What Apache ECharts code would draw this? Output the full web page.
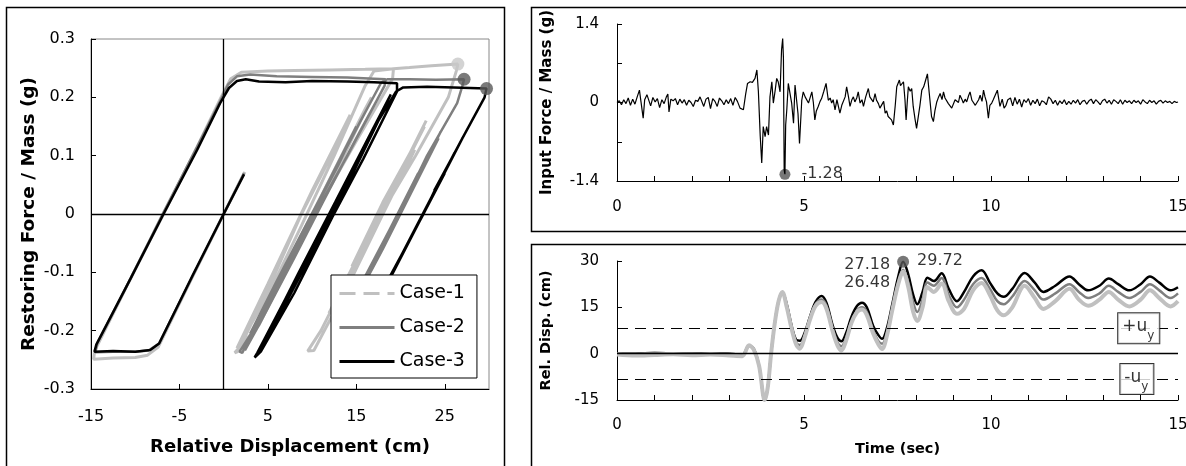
<!DOCTYPE html>
<html>
<head>
<meta charset="utf-8">
<script src="https://cdn.jsdelivr.net/npm/echarts@6.0.0/dist/echarts.min.js"></script>
<style>
  html, body { margin: 0; padding: 0; background: #fff; }
  #chart { width: 1186px; height: 466px; }
</style>
</head>
<body>
<div id="chart"></div>
<script>
// ---- left panel: hysteresis loops [relative displacement (cm), restoring force / mass (g)]
const loopCase1 = [
  [0,0],[2.4,0.072],[0,0],[-3.6,-0.11],[-7.4,-0.228],[-8.6,-0.242],[-10,-0.246],[-12.5,-0.247],[-14.7,-0.249],
  [-14.6,-0.235],[-10.5,-0.11],[-6.8,0],[-3,0.115],[-0.3,0.2],[0.8,0.232],[2,0.243],[5,0.245],[8,0.246],
  [12,0.247],[16,0.248],[19.2,0.249],
  [19.1,0.232],[15,0.125],[10.3,0],[6,-0.115],[2.4,-0.228],[2.2,-0.232],
  [3.5,-0.2],[8,-0.06],[12,0.06],[16,0.18],[16.7,0.2],
  [13,0.08],[9,-0.04],[4,-0.19],[1.25,-0.238],[1.6,-0.236],
  [5,-0.13],[8.8,0],[12.5,0.11],[14.3,0.17],
  [10,0.04],[5,-0.12],[1.5,-0.23],
  [5,-0.14],[8.8,-0.02],[12.5,0.1],[16,0.22],[17,0.245],[19.2,0.249],[21,0.251],[23.5,0.254],[26.48,0.257],
  [26.3,0.245],[25.4,0.2],[21.7,0.1],[17.8,0],[14,-0.11],[11,-0.2],[9.5,-0.235],[10.2,-0.234],
  [14,-0.125],[18,0],[21.6,0.11],[20,0.07],[22.7,0.15],[18,0.01],[11.9,-0.17],[16,-0.05],[22.9,0.16],
  [17,-0.02],[12.4,-0.16],[17,-0.03],[22,0.13],[18,0.02],[14.5,-0.09],[18,0.01],[21,0.1],[16,-0.05],
  [20.5,0.08],[15.3,-0.07],[17,-0.02]
];
const loopCase2 = [
  [0,0],[2.3,0.07],[0,0],[-3.5,-0.106],[-7.3,-0.222],[-8.5,-0.234],[-10,-0.236],[-12.5,-0.236],[-14.5,-0.237],
  [-14.3,-0.222],[-10.5,-0.11],[-6.9,0],[-3,0.115],[-0.5,0.19],[0.5,0.222],[1.5,0.236],[3,0.239],[6,0.236],
  [10,0.235],[14,0.234],[17,0.232],[18.3,0.231],
  [18.2,0.22],[14,0.1],[10.3,0],[6,-0.125],[2.6,-0.226],[2.4,-0.234],
  [4,-0.19],[8,-0.075],[11.2,0.02],[15,0.13],[17.5,0.2],
  [13.8,0.095],[9.3,-0.03],[4.8,-0.165],[1.8,-0.236],[2.1,-0.238],
  [5,-0.15],[9.7,-0.01],[13,0.085],[15,0.15],
  [11,0.03],[6,-0.115],[3,-0.205],
  [6,-0.12],[11,0.03],[15.5,0.16],[17.8,0.225],[18.5,0.231],[21,0.231],[24,0.23],[27.18,0.231],
  [27,0.22],[26.4,0.19],[23,0.1],[19.8,0],[16,-0.107],[13.5,-0.18],
  [17,-0.08],[21,0.04],[24.5,0.14],[22,0.065],[15,-0.145],[18,-0.06],[24.3,0.13],[16,-0.107],[23.5,0.11],
  [17.5,-0.065],[22.5,0.08],[18,-0.05],[22,0.07],[18,-0.05],[22.5,0.08],[18,-0.05],[19.5,-0.01]
];
const loopCase3 = [
  [0,0],[2.3,0.068],[0,0],[-3.5,-0.105],[-7.3,-0.222],[-8.3,-0.233],[-10,-0.236],[-12.5,-0.235],[-14.6,-0.236],
  [-14.4,-0.224],[-10.5,-0.11],[-6.8,0],[-3,0.11],[-0.4,0.19],[0.6,0.216],[1.5,0.228],[2.5,0.231],[4,0.227],
  [7,0.226],[10,0.228],[14,0.227],[17,0.226],[19.6,0.224],
  [19.6,0.21],[15.8,0.095],[12.3,-0.005],[8,-0.135],[4.2,-0.236],[3.5,-0.246],
  [4.5,-0.22],[8.5,-0.1],[12.6,0.02],[16.5,0.135],[18.9,0.205],
  [15,0.09],[11,-0.03],[6.5,-0.16],[3.8,-0.238],
  [7,-0.145],[12,0],[16.8,0.14],
  [12.5,0.01],[8,-0.12],[4.9,-0.215],
  [8.5,-0.11],[13,0.02],[17.5,0.16],[19.5,0.21],[20.3,0.217],[23,0.218],[26,0.217],[29.72,0.215],
  [29.5,0.2],[27,0.13],[24,0.045],[22.6,0],[18.8,-0.107],[16.5,-0.175],
  [20,-0.075],[24.9,0.07],[23.8,0.04],[26.3,0.11],[17.3,-0.155],[27,0.13],[18.4,-0.12],[26.1,0.105],
  [20,-0.075],[25,0.07],[20.5,-0.06],[24.3,0.05],[20.5,-0.06],[25,0.07],[20.5,-0.06],[21.5,-0.03]
];
const caseNames = ['Case-1', 'Case-2', 'Case-3'];
const caseColors = ['#c0c0c0', '#7f7f7f', '#000000'];
const peakDisp = [26.48, 27.18, 29.72];
const peakForce = [0.257, 0.231, 0.215];

// ---- top right: input force / mass (g) vs time (sec)
const inputForce = [
  [0.00,0.00],[0.06,0.03],[0.12,-0.04],[0.18,0.05],[0.24,-0.02],[0.30,0.08],[0.36,-0.05],[0.42,0.06],
  [0.48,-0.03],[0.54,0.10],[0.60,0.22],[0.64,0.02],[0.70,-0.28],[0.74,0.05],[0.80,0.14],[0.85,0.12],
  [0.90,-0.06],[0.96,0.09],[1.02,0.01],[1.08,0.07],[1.14,-0.09],[1.20,0.05],[1.26,-0.02],[1.32,0.10],
  [1.36,0.15],[1.39,-0.17],[1.44,0.06],[1.50,0.03],[1.56,0.07],[1.62,-0.04],[1.68,0.06],[1.74,-0.01],
  [1.80,0.05],[1.86,-0.05],[1.92,0.04],[1.98,0.00],[2.04,-0.07],[2.10,0.04],[2.16,0.02],[2.22,0.10],
  [2.27,0.13],[2.32,-0.07],[2.38,0.06],[2.44,0.09],[2.50,-0.11],[2.56,0.07],[2.62,0.02],[2.68,-0.07],
  [2.74,0.08],[2.80,0.03],[2.86,-0.04],[2.92,0.05],[2.98,-0.02],[3.04,0.07],[3.10,-0.05],[3.16,0.09],
  [3.22,0.02],[3.29,-0.10],[3.38,-0.13],[3.44,0.15],[3.49,0.34],[3.56,0.37],[3.62,0.36],[3.69,0.43],
  [3.74,0.58],[3.78,0.20],[3.83,-0.60],[3.87,-1.08],[3.91,-0.43],[3.96,-0.61],[4.00,-0.43],[4.05,-0.58],
  [4.09,0.10],[4.14,0.37],[4.18,-0.01],[4.23,0.22],[4.27,0.43],[4.31,0.37],[4.36,0.19],[4.40,0.94],
  [4.43,1.14],[4.45,0.80],[4.47,-1.20],[4.49,-1.28],[4.51,-0.40],[4.54,-0.13],[4.58,0.34],[4.63,0.37],
  [4.67,-0.01],[4.72,-0.37],[4.76,0.31],[4.80,0.28],[4.84,-0.20],[4.88,-0.73],[4.94,0.04],[4.98,0.19],
  [5.03,0.10],[5.07,0.10],[5.12,-0.01],[5.16,-0.01],[5.21,0.19],[5.25,0.00],[5.29,-0.31],[5.33,-0.15],
  [5.38,-0.07],[5.43,0.02],[5.47,0.07],[5.53,0.20],[5.59,0.34],[5.65,0.04],[5.70,0.08],[5.74,-0.01],
  [5.78,0.05],[5.83,-0.13],[5.88,0.05],[5.92,0.04],[5.96,-0.19],[6.01,-0.05],[6.05,-0.04],[6.10,0.10],
  [6.14,0.28],[6.19,0.10],[6.23,-0.07],[6.28,0.05],[6.32,0.10],[6.36,0.01],[6.41,0.08],[6.45,0.19],
  [6.50,-0.01],[6.55,0.05],[6.59,-0.07],[6.65,0.10],[6.72,0.25],[6.76,0.10],[6.81,0.05],[6.85,0.01],
  [6.90,0.16],[6.94,0.04],[6.99,-0.02],[7.03,-0.10],[7.08,-0.07],[7.13,0.02],[7.17,-0.19],[7.21,-0.15],
  [7.25,-0.25],[7.30,-0.22],[7.34,-0.31],[7.39,-0.40],[7.44,-0.05],[7.48,0.28],[7.55,0.40],[7.58,0.30],
  [7.61,0.31],[7.66,0.37],[7.70,0.05],[7.73,-0.31],[7.76,0.00],[7.79,0.28],[7.84,0.20],[7.88,0.25],
  [7.92,-0.07],[7.97,-0.30],[8.01,-0.46],[8.06,-0.43],[8.10,-0.05],[8.15,0.22],[8.20,0.28],[8.24,0.37],
  [8.30,0.51],[8.35,0.16],[8.41,-0.25],[8.46,-0.34],[8.50,-0.15],[8.55,0.01],[8.60,0.10],[8.64,0.16],
  [8.69,0.05],[8.73,0.19],[8.77,0.08],[8.81,0.10],[8.86,-0.02],[8.90,0.01],[8.95,-0.10],[8.99,-0.07],
  [9.04,0.05],[9.08,0.07],[9.13,0.00],[9.17,0.13],[9.22,0.06],[9.26,-0.01],[9.31,0.06],[9.35,0.01],
  [9.40,0.12],[9.44,0.19],[9.49,0.04],[9.53,0.01],[9.58,-0.05],[9.62,-0.07],[9.67,0.05],[9.71,0.13],
  [9.76,0.02],[9.80,0.22],[9.84,0.10],[9.88,0.01],[9.93,-0.28],[9.97,-0.05],[10.02,-0.01],[10.06,0.05],
  [10.11,0.07],[10.17,0.22],[10.21,0.05],[10.24,-0.07],[10.30,0.06],[10.35,-0.10],[10.40,-0.05],[10.45,0.05],
  [10.52,0.08],[10.58,-0.06],[10.64,0.09],[10.70,-0.03],[10.76,0.06],[10.82,-0.08],[10.88,0.05],
  [10.94,0.00],[11.00,0.07],[11.06,-0.05],[11.12,0.04],[11.18,-0.02],[11.24,0.06],[11.30,-0.06],[11.36,0.03],
  [11.42,0.01],[11.48,-0.04],[11.54,0.10],[11.60,0.06],[11.66,-0.02],[11.72,0.04],[11.78,-0.05],[11.84,0.03],
  [11.90,-0.02],[11.96,0.05],[12.02,-0.04],[12.08,0.02],[12.14,-0.03],[12.20,0.04],[12.26,-0.01],[12.32,0.05],
  [12.38,-0.04],[12.44,0.02],[12.50,0.04],[12.56,-0.03],[12.62,0.03],[12.68,0.06],[12.74,-0.02],[12.80,0.05],
  [12.86,0.01],[12.92,-0.04],[12.98,0.03],[13.04,0.06],[13.10,-0.01],[13.16,0.04],[13.22,-0.03],[13.28,0.05],
  [13.34,0.02],[13.40,-0.02],[13.46,0.05],[13.52,-0.03],[13.58,0.04],[13.64,0.00],[13.70,0.03],[13.76,-0.02],
  [13.82,0.04],[13.88,0.00],[13.94,0.03],[14.00,-0.03],[14.06,0.05],[14.12,0.01],[14.18,-0.02],[14.24,0.04],
  [14.30,0.00],[14.36,0.03],[14.42,-0.03],[14.48,0.02],[14.54,0.04],[14.60,-0.01],[14.66,0.03],[14.72,0.00],
  [14.78,0.02],[14.84,-0.02],[14.90,0.02],[14.96,0.00],[15.00,0.01]
];
const minForce = [4.49, -1.28];

// ---- bottom right: relative displacement (cm) vs time (sec)
const dispTime = [
  0, 0.5, 1.0, 1.5, 2.0, 2.5, 3.0, 3.35, 3.53, 3.66,
  3.8, 3.95, 4.03, 4.12, 4.22, 4.32, 4.42, 4.54, 4.67, 4.79,
  4.89, 5.01, 5.16, 5.31, 5.47, 5.6, 5.77, 5.9, 6.0, 6.12,
  6.27, 6.42, 6.55, 6.68, 6.85, 6.99, 7.09, 7.21, 7.36, 7.52,
  7.65, 7.78, 7.92, 8.03, 8.17, 8.3, 8.47, 8.68, 8.87, 9.09,
  9.28, 9.52, 9.75, 9.97, 10.17, 10.34, 10.57, 10.9, 11.17, 11.4,
  11.72, 12.1, 12.35, 12.6, 12.9, 13.15, 13.4, 13.7, 14.0, 14.25,
  14.5, 14.8, 15.0
];
const dispCase1 = [
  -0.3, -0.6, -0.4, -0.2, -0.5, -0.3, -0.6, -0.8, 2.7, 1.2,
  -4, -15, -11, 0, 10, 17, 20, 15, 8, 3,
  1.6, 5, 11, 15.5, 16.7, 14.5, 7, 2.5, 1, 4,
  10, 13.5, 14.3, 12.5, 6.5, 3, 1.5, 5.5, 14, 22.5,
  26.48, 22, 13.5, 10.6, 15, 21.6, 20, 22.7, 17, 12.9,
  14.5, 20.5, 22.9, 19, 14, 12.4, 15, 22, 18, 14.5,
  17, 21, 17.5, 15.5, 17.5, 20, 17.5, 15.3, 17.5, 20.5,
  18, 15.3, 17
];
const dispCase2 = [
  0, 0, 0.2, 0.1, 0, 0.1, 0, -0.4, 2.6, 1.5,
  -4, -15, -11, 0, 10, 17, 20, 15.5, 8.5, 3.5,
  2.8, 5.5, 11.5, 16, 17.5, 15.5, 8, 3.5, 2.4, 5,
  10.5, 14, 15, 13.5, 7.5, 4, 3.2, 6.5, 14.5, 23,
  27.18, 23.5, 16.5, 13.5, 17.5, 23, 22, 24.5, 19, 15,
  17.5, 22.5, 24.5, 21, 17, 16, 18.5, 23.5, 20.5, 17.5,
  19.5, 22.5, 20, 18, 19.5, 22, 20, 18, 20, 22.5,
  20.5, 18, 19.5
];
const dispCase3 = [
  0, 0, 0.2, 0.1, 0, 0.1, 0, -0.4, 2.6, 1.5,
  -4, -15, -11, 0, 10, 17, 20, 16, 9, 4.5,
  4.2, 6.5, 12, 16.8, 18.7, 16.5, 9, 5, 4.0, 6.5,
  12, 15.5, 16.5, 15, 9, 6, 4.8, 8, 16, 25,
  29.72, 26, 19, 16, 20, 24.6, 23.5, 26, 21, 17,
  20, 25, 27, 23, 19.5, 18.4, 21, 26.1, 23, 20,
  22, 25, 22.5, 20.5, 22, 24.3, 22.5, 20.5, 22.5, 25,
  23, 20.5, 21.5
];
const peakTime = 7.65;
const peakDispTime = [26.48, 27.18, 29.72];
const yieldDisp = 8.2;
const yieldLabelTime = 13.95;

const font = 'DejaVu Sans';
const zip = (xs, ys) => xs.map((x, i) => [x, ys[i]]);

function valueAxis(opts) {
  return Object.assign({
    type: 'value',
    splitLine: { show: false },
    axisLine: { show: true, onZero: false, lineStyle: { color: '#000', width: 1 } },
    axisTick: { show: true, inside: true, length: 5, lineStyle: { color: '#000', width: 1 } },
    nameLocation: 'middle'
  }, opts);
}
const tickLabel = (size, margin, extra) => Object.assign({ color: '#000', fontSize: size, fontFamily: font, margin: margin }, extra);
const titleStyle = (size) => ({ color: '#000', fontSize: size, fontWeight: 'bold', fontFamily: font });

const chart = echarts.init(document.getElementById('chart'));

const loops = [loopCase1, loopCase2, loopCase3];
const loopWidths = [3, 2.5, 2.5];
const dispSeries = [dispCase3, dispCase2, dispCase1];
const dispColors = ['#000000', '#7f7f7f', '#c0c0c0'];
const dispWidths = [2.5, 2.5, 4];

const series = [];
loops.forEach((loop, i) => {
  series.push({
    name: caseNames[i], type: 'line', xAxisIndex: 0, yAxisIndex: 0,
    data: loop, showSymbol: false, symbol: 'none', smooth: false,
    lineStyle: { color: caseColors[i], width: loopWidths[i] },
    itemStyle: { color: caseColors[i] },
    emphasis: { disabled: true },
    markLine: i === 0 ? {
      silent: true, symbol: 'none', label: { show: false },
      lineStyle: { color: '#000', width: 1.3, type: 'solid' },
      data: [{ xAxis: 0 }, { yAxis: 0 }]
    } : undefined
  });
});
series.push({
  type: 'scatter', xAxisIndex: 0, yAxisIndex: 0, symbolSize: 13, z: 5,
  data: peakDisp.map((x, i) => ({ value: [x, peakForce[i]], itemStyle: { color: i === 0 ? '#c8c8c8' : '#595959' } }))
});

series.push({
  type: 'line', xAxisIndex: 1, yAxisIndex: 1, data: inputForce, showSymbol: false, symbol: 'none',
  lineStyle: { color: '#000', width: 1.2 }
});
series.push({
  type: 'scatter', xAxisIndex: 1, yAxisIndex: 1, symbolSize: 11, data: [minForce],
  itemStyle: { color: '#555' },
  label: { show: true, position: 'right', distance: 11, color: '#000', fontSize: 16, fontFamily: font,
           formatter: (p) => p.value[1].toFixed(2) }
});

dispSeries.forEach((vals, i) => {
  series.push({
    type: 'line', xAxisIndex: 2, yAxisIndex: 2, data: zip(dispTime, vals), showSymbol: false, symbol: 'none',
    smooth: 0.35, lineStyle: { color: dispColors[i], width: dispWidths[i] },
    markLine: i === 0 ? {
      silent: true, symbol: 'none', label: { show: false },
      data: [
        { yAxis: 0, lineStyle: { color: '#000', width: 1.3, type: 'solid' } },
        { yAxis: yieldDisp, lineStyle: { color: '#000', width: 1.2, type: [11, 7] } },
        { yAxis: -yieldDisp, lineStyle: { color: '#000', width: 1.2, type: [11, 7] } }
      ]
    } : undefined
  });
});
const peakLabels = [
  { position: 'left', offset: [0, 11], distance: 13 },
  { position: 'left', offset: [0, -5], distance: 13 },
  { position: 'right', offset: [0, -1], distance: 8 }
];
series.push({
  type: 'scatter', xAxisIndex: 2, yAxisIndex: 2, z: 6,
  data: peakDispTime.map((v, i) => ({
    value: [peakTime, v],
    symbolSize: i === 2 ? 12 : 0,
    itemStyle: { color: '#555' },
    label: Object.assign({ show: true, color: '#000', fontSize: 16, fontFamily: font,
                           formatter: (p) => p.value[1].toFixed(2) }, peakLabels[i])
  }))
});
series.push({
  type: 'scatter', xAxisIndex: 2, yAxisIndex: 2, symbolSize: 0, z: 7,
  data: [[yieldLabelTime, yieldDisp], [yieldLabelTime - 0.05, -yieldDisp]],
  label: {
    show: true, position: 'inside', backgroundColor: '#fff', borderColor: '#000', borderWidth: 1,
    padding: [5, 5, 3, 4],
    formatter: (p) => (p.value[1] > 0 ? '{a|+u}' : '{a|-u}') + '{b|y}',
    rich: {
      a: { fontSize: 17, fontFamily: font, color: '#000', lineHeight: 22, verticalAlign: 'top' },
      b: { fontSize: 12, fontFamily: font, color: '#000', lineHeight: 12, verticalAlign: 'top', padding: [12, 0, 0, 0] }
    }
  }
});

const option = {
  backgroundColor: '#fff',
  animation: false,
  textStyle: { fontFamily: font },
  grid: [
    { left: 91, right: 697, top: 39, bottom: 77, show: true, borderColor: '#888', borderWidth: 1, outerBoundsMode: 'none' },
    { left: 617, right: 8, top: 24, bottom: 285, outerBoundsMode: 'none' },
    { left: 617, right: 8, top: 261, bottom: 66, outerBoundsMode: 'none' }
  ],
  xAxis: [
    valueAxis({ gridIndex: 0, min: -15, max: 30, interval: 10,
      axisLabel: tickLabel(16, 20, { showMaxLabel: false }),
      name: 'Relative Displacement (cm)', nameGap: 49, nameTextStyle: titleStyle(18) }),
    valueAxis({ gridIndex: 1, min: 0, max: 15, interval: 1,
      axisLabel: tickLabel(15, 19, { formatter: (v) => (v % 5 === 0 ? String(v) : '') }) }),
    valueAxis({ gridIndex: 2, min: 0, max: 15, interval: 1,
      axisLabel: tickLabel(15, 18, { formatter: (v) => (v % 5 === 0 ? String(v) : '') }),
      name: 'Time (sec)', nameGap: 42, nameTextStyle: titleStyle(14.5) })
  ],
  yAxis: [
    valueAxis({ gridIndex: 0, min: -0.3, max: 0.3, interval: 0.1,
      axisLabel: tickLabel(16, 16),
      name: 'Restoring Force / Mass (g)', nameGap: 52, nameTextStyle: titleStyle(18.5) }),
    valueAxis({ gridIndex: 1, min: -1.4, max: 1.4, interval: 0.7,
      axisLabel: tickLabel(15, 18, { formatter: (v) => {
        if (Math.abs(v) < 1e-9) return '0';
        return Math.abs(Math.abs(v) - 1.4) < 1e-6 ? v.toFixed(1) : '';
      } }),
      name: 'Input Force / Mass (g)', nameGap: 62, nameTextStyle: titleStyle(15) }),
    valueAxis({ gridIndex: 2, min: -15, max: 30, interval: 15,
      axisLabel: tickLabel(15, 18),
      name: 'Rel. Disp. (cm)', nameGap: 63, nameTextStyle: titleStyle(14.5) })
  ],
  legend: {
    left: 331, top: 275, orient: 'vertical',
    itemWidth: 55, itemHeight: 18, itemGap: 15, padding: [9, 12, 7, 7],
    backgroundColor: '#fff', borderColor: '#000', borderWidth: 1, borderRadius: 0,
    itemStyle: { opacity: 0 },
    textStyle: { fontSize: 19, color: '#000', fontFamily: font },
    data: [
      { name: 'Case-1', lineStyle: { type: [16, 8], width: 3 } },
      { name: 'Case-2', lineStyle: { width: 3 } },
      { name: 'Case-3', lineStyle: { width: 3 } }
    ]
  },
  graphic: [
    { type: 'rect', silent: true, shape: { x: 6.5, y: 7.5, width: 498, height: 480 }, style: { fill: 'none', stroke: '#000', lineWidth: 1.5 } },
    { type: 'rect', silent: true, shape: { x: 531.5, y: 7.5, width: 700, height: 224 }, style: { fill: 'none', stroke: '#000', lineWidth: 1.5 } },
    { type: 'rect', silent: true, shape: { x: 531.5, y: 244.5, width: 700, height: 300 }, style: { fill: 'none', stroke: '#000', lineWidth: 1.5 } }
  ],
  series: series
};
chart.setOption(option);
</script>
</body>
</html>
